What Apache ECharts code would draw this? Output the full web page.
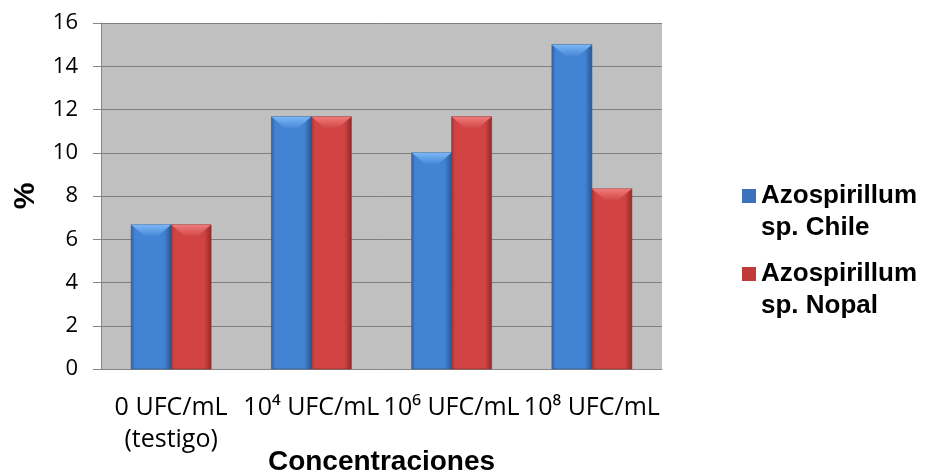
<!DOCTYPE html>
<html>
<head>
<meta charset="utf-8">
<script src="https://cdn.jsdelivr.net/npm/echarts@6/dist/echarts.min.js"></script>
<style>
  html, body { margin: 0; padding: 0; background: #ffffff; }
  #chart { width: 925px; height: 472px; }
</style>
</head>
<body>
<div id="chart"></div>
<script>
// Percentages per inoculum concentration
var categories = ['0 UFC/mL\n(testigo)', '10\u2074 UFC/mL', '10\u2076 UFC/mL', '10\u2078 UFC/mL'];
var seriesNames = ['Azospirillum\nsp. Chile', 'Azospirillum\nsp. Nopal'];
var chileValues = [6.67, 11.67, 10, 15];
var nopalValues = [6.67, 11.67, 11.67, 8.33];
var yTicks = [0, 2, 4, 6, 8, 10, 12, 14, 16];

// Shading palettes for the bevelled bars
var palettes = [
  { edgeL: '#2f62a6', mid: '#4383d3', edgeR: '#2a5690', top1: '#7ab8f6', top2: '#4a8ad8', line: '#27558f', legend: '#3a72bc' },
  { edgeL: '#a83434', mid: '#d24444', edgeR: '#8f2a2a', top1: '#f07a7a', top2: '#d44a4a', line: '#882828', legend: '#c03a3a' }
];

var BAR_FRACTION = 0.285; // bar width as a share of the category band

function makeRenderer(seriesIndex) {
  var pal = palettes[seriesIndex];
  return function (params, api) {
    var cat = api.value(0);
    var val = api.value(1);
    var topPt = api.coord([cat, val]);
    var basePt = api.coord([cat, 0]);
    var band = api.size([1, 0])[0];
    var w = band * BAR_FRACTION;
    var x = topPt[0] + (seriesIndex === 0 ? -w : 0);
    var y = topPt[1];
    var h = basePt[1] - topPt[1];
    var bevel = Math.min(11, h / 2);
    var inset = Math.min(13, w / 3);
    var body = new echarts.graphic.LinearGradient(0, 0, 1, 0, [
      { offset: 0, color: pal.edgeL },
      { offset: 0.1, color: pal.mid },
      { offset: 0.82, color: pal.mid },
      { offset: 1, color: pal.edgeR }
    ]);
    var topFace = new echarts.graphic.LinearGradient(0, 0, 0, 1, [
      { offset: 0, color: pal.top1 },
      { offset: 1, color: pal.top2 }
    ]);
    return {
      type: 'group',
      children: [
        {
          type: 'rect',
          shape: { x: x, y: y, width: w, height: h },
          style: { fill: body, stroke: pal.line, lineWidth: 0.6 }
        },
        {
          type: 'polygon',
          shape: { points: [[x, y], [x + w, y], [x + w - inset, y + bevel], [x + inset, y + bevel]] },
          style: { fill: topFace }
        }
      ]
    };
  };
}

var chart = echarts.init(document.getElementById('chart'), null, { renderer: 'canvas' });

chart.setOption({
  animation: false,
  backgroundColor: '#ffffff',
  grid: {
    left: 101, right: 263, top: 23, bottom: 103,
    containLabel: false,
    outerBoundsMode: 'none',
    show: true, backgroundColor: '#c0c0c0', borderWidth: 0
  },
  legend: {
    orient: 'vertical',
    left: 742,
    top: 180,
    padding: 0,
    itemWidth: 14,
    itemHeight: 46,
    itemGap: 14,
    icon: 'path://M0,0H14V14H0Z M0,46L14,46',
    itemStyle: { borderWidth: 0 },
    textStyle: {
      fontFamily: '"Liberation Sans", Arial, sans-serif',
      fontWeight: 'bold',
      fontSize: 26,
      lineHeight: 32,
      color: '#000000'
    },
    data: [
      { name: seriesNames[0], itemStyle: { color: palettes[0].legend } },
      { name: seriesNames[1], itemStyle: { color: palettes[1].legend } }
    ]
  },
  xAxis: {
    type: 'category',
    data: categories,
    name: 'Concentraciones',
    nameLocation: 'middle',
    nameGap: 79,
    nameMoveOverlap: false,
    nameTextStyle: {
      fontFamily: '"Liberation Sans", Arial, sans-serif',
      fontWeight: 'bold',
      fontSize: 28,
      color: '#000000'
    },
    axisLine: { lineStyle: { color: '#868686', width: 1 } },
    axisTick: { show: false },
    axisLabel: {
      interval: 0,
      margin: 23,
      fontFamily: '"Open Sans", sans-serif',
      fontSize: 25,
      lineHeight: 32,
      color: '#000000'
    }
  },
  yAxis: {
    type: 'value',
    min: yTicks[0],
    max: yTicks[yTicks.length - 1],
    interval: 2,
    name: '%',
    nameLocation: 'middle',
    nameGap: 60,
    nameMoveOverlap: false,
    nameRotate: 90,
    nameTextStyle: {
      fontFamily: '"Liberation Sans", Arial, sans-serif',
      fontWeight: 'bold',
      fontSize: 30,
      color: '#000000'
    },
    axisLine: { show: true, lineStyle: { color: '#868686', width: 1 } },
    axisTick: { show: true, length: 8, lineStyle: { color: '#868686', width: 1 } },
    axisLabel: {
      margin: 23,
      fontFamily: '"Open Sans", sans-serif',
      fontSize: 22,
      color: '#000000'
    },
    splitLine: { show: true, lineStyle: { color: '#7f7f7f', width: 1 } }
  },
  series: [
    {
      name: seriesNames[0],
      type: 'custom',
      itemStyle: { color: palettes[0].legend },
      renderItem: makeRenderer(0),
      encode: { x: 0, y: 1 },
      data: chileValues.map(function (v, i) { return [i, v]; })
    },
    {
      name: seriesNames[1],
      type: 'custom',
      itemStyle: { color: palettes[1].legend },
      renderItem: makeRenderer(1),
      encode: { x: 0, y: 1 },
      data: nopalValues.map(function (v, i) { return [i, v]; })
    }
  ]
});
</script>
</body>
</html>
